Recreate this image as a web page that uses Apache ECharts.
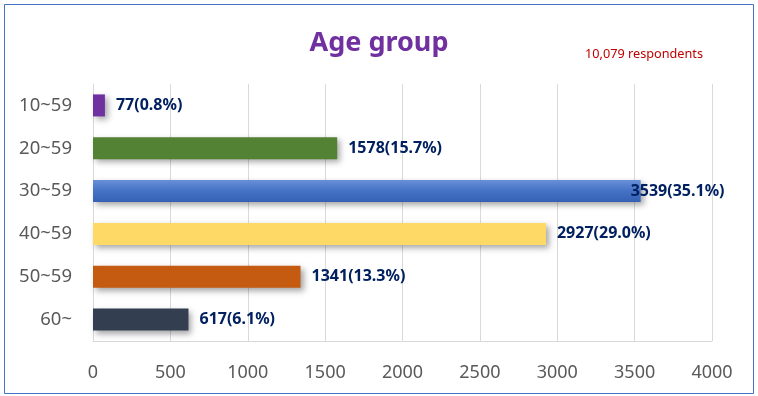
<!DOCTYPE html>
<html>
<head>
<meta charset="utf-8">
<script src="https://cdn.jsdelivr.net/npm/echarts@6/dist/echarts.min.js"></script>
<style>
	html, body { margin: 0; padding: 0; background: #fff; }
	#chart { width: 758px; height: 396px; }
</style>
</head>
<body>
<div id="chart"></div>
<script>
	//类别与数值
	var categories = ['10~59', '20~59', '30~59', '40~59', '50~59', '60~'];
	var counts = [77, 1578, 3539, 2927, 1341, 617];
	var percents = ['0.8', '15.7', '35.1', '29.0', '13.3', '6.1'];
	var xTicks = [0, 500, 1000, 1500, 2000, 2500, 3000, 3500, 4000];
	var totalText = '10,079 respondents';

	var barColors = [
		'#7030A0',
		'#548235',
		new echarts.graphic.LinearGradient(0, 0, 0, 1, [
			{ offset: 0, color: '#6A8FD8' },
			{ offset: 0.5, color: '#4472C4' },
			{ offset: 1, color: '#3561B5' }
		]),
		'#FFD966',
		'#C55A11',
		'#333F50'
	];

	var seriesData = [];
	for (var i = 0; i < counts.length; i++) {
		var item = {
			value: counts[i],
			itemStyle: { color: barColors[i] }
		};
		//最长的条标签压在条末端
		if (i == 2) item.label = { offset: [-21, 0] };
		seriesData.push(item);
	}

	var option = {
		animation: false,
		backgroundColor: '#fff',
		title: {
			text: 'Age group',
			left: 'center',
			top: 25,
			textStyle: { color: '#7030A0', fontSize: 27, fontWeight: 'bold', fontFamily: 'Noto Sans' }
		},
		graphic: [
			{
				type: 'rect',
				shape: { x: 4.5, y: 4.5, width: 749, height: 389 },
				style: { fill: 'none', stroke: '#4472C4', lineWidth: 1 },
				silent: true
			},
			{
				type: 'text',
				left: 585,
				top: 48,
				style: { text: totalText, fill: '#C00000', font: '12.7px "Noto Sans"' }
			}
		],
		grid: { left: 93, right: 46, top: 84, bottom: 55 },
		xAxis: {
			type: 'value',
			min: 0,
			max: 4000,
			interval: 500,
			axisLine: { show: true, lineStyle: { color: '#D9D9D9' } },
			axisTick: { show: false },
			splitLine: { lineStyle: { color: '#D9D9D9' } },
			axisLabel: {
				margin: 23,
				color: '#595959',
				fontSize: 18,
				fontFamily: 'Noto Sans',
				formatter: function (v) { return xTicks.indexOf(v) > -1 ? String(v) : ''; }
			}
		},
		yAxis: {
			type: 'category',
			inverse: true,
			data: categories,
			axisLine: { show: true, lineStyle: { color: '#D9D9D9' } },
			axisTick: { show: false },
			axisLabel: { margin: 21, color: '#595959', fontSize: 18.5, fontFamily: 'Noto Sans' }
		},
		series: [{
			type: 'bar',
			data: seriesData,
			barWidth: 22,
			itemStyle: {
				shadowColor: 'rgba(0,0,0,0.35)',
				shadowBlur: 6,
				shadowOffsetX: 3,
				shadowOffsetY: 3
			},
			label: {
				show: true,
				position: 'right',
				distance: 11,
				color: '#002060',
				fontSize: 16,
				fontWeight: 'bold',
				fontFamily: 'Noto Sans',
				formatter: function (p) {
					return counts[p.dataIndex] + '(' + percents[p.dataIndex] + '%)';
				}
			}
		}]
	};

	var myChart = echarts.init(document.getElementById('chart'));
	myChart.setOption(option);
</script>
</body>
</html>
